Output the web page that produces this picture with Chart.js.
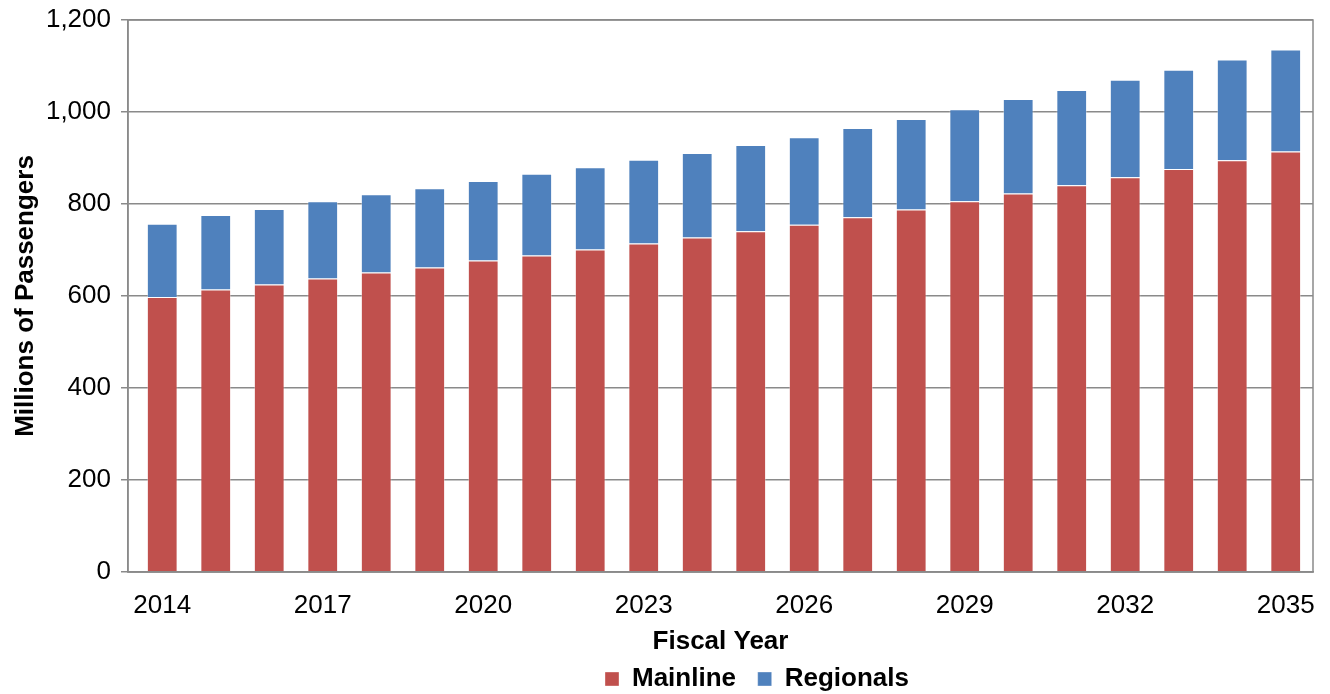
<!DOCTYPE html>
<html>
<head>
<meta charset="utf-8">
<script src="https://cdn.jsdelivr.net/npm/chart.js@4"></script>
<style>
  html, body { margin: 0; padding: 0; background: #fff; }
  #wrap { width: 1330px; height: 694px; position: relative; }
</style>
</head>
<body>
<div id="wrap"><canvas id="chart"></canvas></div>
<script>
// Values (millions of passengers)
const years = [2014, 2015, 2016, 2017, 2018, 2019, 2020, 2021, 2022, 2023, 2024,
               2025, 2026, 2027, 2028, 2029, 2030, 2031, 2032, 2033, 2034, 2035];
const mainline = [598, 614, 625, 638, 651, 662, 677, 688, 701, 714, 727,
                  741, 755, 771, 788, 806, 823, 841, 858, 876, 895, 914];
const regionals = [159, 162, 164, 168, 170, 172, 173, 178, 179, 182, 184,
                   187, 190, 194, 197, 200, 205, 207, 212, 216, 219, 222];
const yTicks = [0, 200, 400, 600, 800, 1000, 1200];
const xTicks = [2014, 2017, 2020, 2023, 2026, 2029, 2032, 2035];

const gridGray = '#8a8a8a';
const fontFamily = '"Liberation Sans", Arial, sans-serif';

// box round the plot area, and legend moved to where the original has it
const plotBorder = {
    id: 'plotBorder',
    afterLayout(chart) {
        const lg = chart.legend;
        const shift = 605 - lg.left;
        lg.left += shift;
        lg.right += shift;
        lg.top += 8;
        lg.bottom += 8;
    },
    afterDraw(chart) {
        const a = chart.chartArea;
        const ctx = chart.ctx;
        ctx.save();
        ctx.strokeStyle = gridGray;
        ctx.lineWidth = 1.5;
        ctx.strokeRect(a.left, a.top, a.right - a.left, a.bottom - a.top);
        ctx.restore();
    }
};

Chart.defaults.font.family = fontFamily;
Chart.defaults.color = '#000';

new Chart(document.getElementById('chart').getContext('2d'), {
    type: 'bar',
    data: {
        labels: years,
        datasets: [
            {
                label: 'Mainline',
                data: mainline,
                backgroundColor: '#C0504D',
                borderColor: 'rgba(255,255,255,0.35)',
                borderWidth: 1,
                categoryPercentage: 1,
                barPercentage: 0.575
            },
            {
                label: 'Regionals',
                data: regionals,
                backgroundColor: '#4F81BD',
                borderColor: 'rgba(255,255,255,0.35)',
                borderWidth: 1,
                categoryPercentage: 1,
                barPercentage: 0.575
            }
        ]
    },
    options: {
        responsive: true,
        maintainAspectRatio: false,
        animation: false,
        layout: { padding: { top: 20, right: 17, bottom: 0, left: 0 } },
        plugins: {
            legend: {
                position: 'bottom',
                align: 'start',
                labels: {
                    boxWidth: 14,
                    boxHeight: 14,
                    padding: 0,
                    color: '#000',
                    font: { size: 26, weight: 'bold' },
                    generateLabels: function(chart) {
                        const items = Chart.defaults.plugins.legend.labels.generateLabels(chart);
                        // a little extra room after the first entry
                        items[0].text = items[0].text + '   ';
                        return items;
                    }
                }
            },
            tooltip: { enabled: false }
        },
        scales: {
            x: {
                type: 'linear',
                stacked: true,
                offset: false,
                min: 2013.36,
                max: 2035.51,
                afterBuildTicks: function(scale) {
                    scale.ticks = xTicks.map(v => ({ value: v }));
                },
                afterFit: function(scale) {
                    scale.height = 86;
                    scale.paddingLeft = 0;
                    scale.paddingRight = 0;
                },
                grid: { display: false, drawTicks: false },
                border: { color: gridGray, width: 1.5 },
                ticks: {
                    autoSkip: false,
                    maxRotation: 0,
                    padding: 18,
                    color: '#000',
                    font: { size: 26 },
                    callback: v => String(v)
                },
                title: {
                    display: true,
                    text: 'Fiscal Year',
                    color: '#000',
                    font: { size: 26, weight: 'bold' },
                    padding: { top: 2, bottom: 1 }
                }
            },
            y: {
                stacked: true,
                min: 0,
                max: 1200,
                afterBuildTicks: function(scale) {
                    scale.ticks = yTicks.map(v => ({ value: v }));
                },
                afterFit: function(scale) {
                    scale.width = 128;
                    scale.paddingTop = 0;
                    scale.paddingBottom = 0;
                },
                grid: { color: gridGray, lineWidth: 1.5, tickLength: 7, tickColor: gridGray },
                border: { color: gridGray, width: 1.5 },
                ticks: {
                    padding: 10,
                    color: '#000',
                    font: { size: 26 },
                    callback: v => v.toLocaleString('en-US')
                },
                title: {
                    display: true,
                    text: 'Millions of Passengers',
                    color: '#000',
                    font: { size: 26, weight: 'bold' },
                    padding: { top: 10, bottom: 4 }
                }
            }
        }
    },
    plugins: [plotBorder]
});
</script>
</body>
</html>
